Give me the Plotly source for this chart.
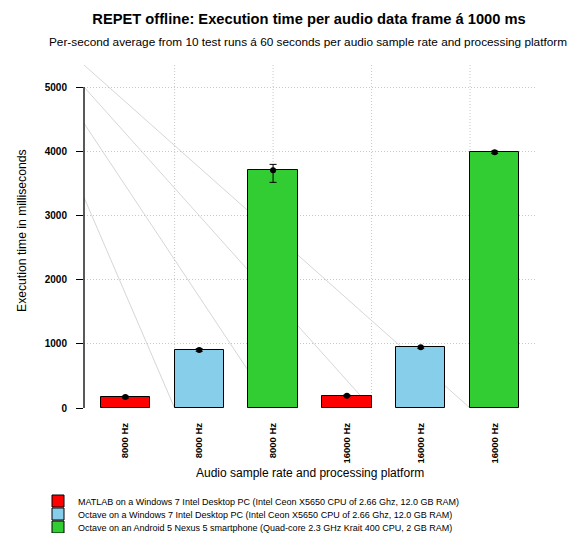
import plotly.graph_objects as go

# ---------------- data ----------------
sample_rates = ["8000 Hz", "16000 Hz"]
platforms = [
    "MATLAB on a Windows 7 Intel Desktop PC (Intel Ceon X5650 CPU of 2.66 Ghz, 12.0 GB RAM)",
    "Octave on a Windows 7 Intel Desktop PC (Intel Ceon X5650 CPU of 2.66 Ghz, 12.0 GB RAM)",
    "Octave on an Android 5 Nexus 5 smartphone (Quad-core 2.3 GHz Krait 400 CPU, 2 GB RAM)",
]
matlab_win = [170, 192]
octave_win = [903, 945]
octave_android = [3705, 3983]
err_up_matlab = [15, 12]
err_dn_matlab = [15, 12]
err_up_octave_win = [20, 15]
err_dn_octave_win = [20, 15]
err_up_android = [90, 20]
err_dn_android = [190, 20]
y_ticks = [0, 1000, 2000, 3000, 4000, 5000]
# faint diagonal guide lines visible in the original picture (data units)
guide_x0 = [0.16, 0.16, 0.16, 0.16]
guide_y0 = [5343, 5000, 4435, 3280]
guide_x1 = [8, 6, 4, 2]
guide_y1 = [0, 0, 0, 0]
vgrid_x = [2, 4, 6, 8]

colors = ["#FF0000", "#87CEEB", "#32CD32"]
series = [matlab_win, octave_win, octave_android]
err_up = [err_up_matlab, err_up_octave_win, err_up_android]
err_dn = [err_dn_matlab, err_dn_octave_win, err_dn_android]

FONT = "Liberation Sans, Arial, sans-serif"
GRID_DASH = "1px,2px"
GRID_COLOR = "#c8c8c8"
W, H = 574, 533
ML, MR, MT, MB = 84, 38, 65, 125
PW, PH = W - ML - MR, H - MT - MB

def px_to_paper_x(px):
    return (px - ML) / PW

def py_to_paper_y(py):
    return (H - MB - py) / PH

# bar positions (R barplot style: width 1, space 0.5)
n_pl = len(platforms)
def pos(rate_idx, pl_idx):
    i = rate_idx * n_pl + pl_idx
    return 1 + 1.5 * i

legend_names = ["legend", "legend2", "legend3"]
legend_rows_py = [501, 514, 527]

fig = go.Figure()

for p in range(n_pl):
    xs = [pos(r, p) for r in range(len(sample_rates))]
    fig.add_trace(go.Bar(
        x=xs, y=series[p], width=1, name=platforms[p], legend=legend_names[p],
        marker=dict(color=colors[p], line=dict(color="black", width=1)),
        hoverinfo="skip",
    ))

for p in range(n_pl):
    xs = [pos(r, p) for r in range(len(sample_rates))]
    fig.add_trace(go.Scatter(
        x=xs, y=series[p], mode="markers", showlegend=False,
        marker=dict(color="black", size=6),
        error_y=dict(type="data", symmetric=False, array=err_up[p],
                     arrayminus=err_dn[p], color="black", thickness=1, width=3.5),
        hoverinfo="skip",
    ))

shapes = []
for gx in vgrid_x:
    shapes.append(dict(type="line", xref="x", yref="paper", x0=gx, x1=gx, y0=0, y1=1,
                       line=dict(color=GRID_COLOR, width=1, dash=GRID_DASH), layer="below"))
for x0, y0, x1, y1 in zip(guide_x0, guide_y0, guide_x1, guide_y1):
    shapes.append(dict(type="line", xref="x", yref="y", x0=x0, y0=y0, x1=x1, y1=y1,
                       line=dict(color="#d6d6d6", width=1), layer="below"))
shapes.append(dict(type="line", xref="paper", yref="y", x0=0, x1=0,
                   y0=min(y_ticks), y1=max(y_ticks),
                   line=dict(color="black", width=1.3)))

tickvals = [pos(r, p) for r in range(len(sample_rates)) for p in range(n_pl)]
ticktext = [sample_rates[r] for r in range(len(sample_rates)) for p in range(n_pl)]

legend_layout = {}
for name, py in zip(legend_names, legend_rows_py):
    legend_layout[name] = dict(
        x=px_to_paper_x(38), xanchor="left", y=py_to_paper_y(py), yanchor="middle",
        font=dict(size=9, family=FONT, color="black"), bgcolor="rgba(0,0,0,0)",
        itemclick=False, itemdoubleclick=False, borderwidth=0)

fig.update_layout(
    width=W, height=H,
    margin=dict(l=ML, r=MR, t=MT, b=MB, autoexpand=False),
    paper_bgcolor="white", plot_bgcolor="white",
    font=dict(family=FONT, color="black"),
    title=dict(text="REPET offline: Execution time per audio data frame á 1000 ms",
               x=px_to_paper_x(309), xref="paper", xanchor="center",
               y=1 - 18.5 / H, yref="container", yanchor="middle",
               font=dict(size=14.7, family=FONT, weight="bold", color="black")),
    annotations=[
        dict(text="Per-second average from 10 test runs á 60 seconds per audio sample rate and processing platform",
             xref="paper", yref="paper", x=px_to_paper_x(308), y=py_to_paper_y(42), xanchor="center", yanchor="middle",
             showarrow=False, font=dict(size=11.8, family=FONT)),
        dict(text="Execution time in milliseconds", xref="paper", yref="paper",
             x=px_to_paper_x(22), y=py_to_paper_y(231), xanchor="center", yanchor="middle", textangle=-90,
             showarrow=False, font=dict(size=12.2, family=FONT)),
        dict(text="Audio sample rate and processing platform", xref="paper", yref="paper",
             x=px_to_paper_x(310), y=py_to_paper_y(473), xanchor="center", yanchor="middle",
             showarrow=False, font=dict(size=12, family=FONT)),
    ],
    shapes=shapes,
    showlegend=True,
    bargap=0,
    **legend_layout,
)

fig.update_xaxes(range=[0.16, 9.34], tickmode="array", tickvals=tickvals, ticktext=ticktext,
                 tickangle=-90, ticks="", showgrid=False, zeroline=False, showline=False,
                 ticklabelstandoff=12,
                 tickfont=dict(size=9.5, family=FONT, weight="bold"))
fig.update_yaxes(range=[0, 5343], tickmode="array", tickvals=y_ticks,
                 ticks="outside", ticklen=7, tickcolor="black", tickwidth=1,
                 showgrid=True, gridcolor=GRID_COLOR, griddash=GRID_DASH, gridwidth=1,
                 zeroline=False, showline=False, ticklabelstandoff=7,
                 tickfont=dict(size=10, family=FONT, weight="bold"))

fig.write_html("out.html", config={"displayModeBar": False},
               post_script="document.body.style.margin='0';document.body.style.overflow='hidden';")
